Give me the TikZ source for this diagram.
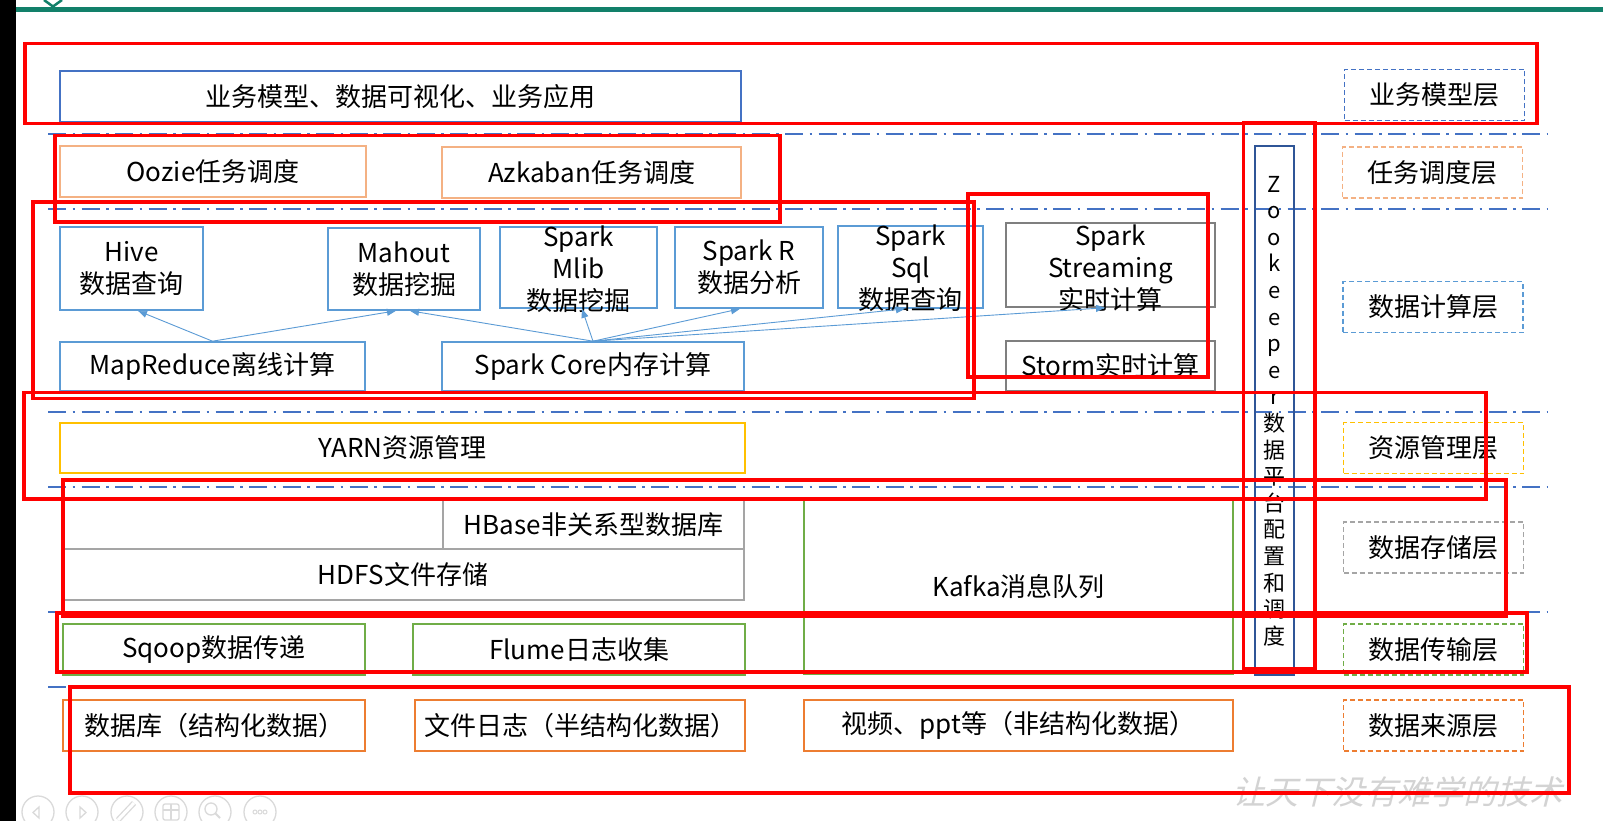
\documentclass[tikz,border=0pt]{standalone}
\usepackage{fontspec}
\setmainfont{Noto Sans CJK SC}
\newfontfamily\wmfont[FakeSlant=0.25]{Noto Sans CJK SC}
\usetikzlibrary{arrows.meta}
\definecolor{redA}{HTML}{FF0000}
\definecolor{tealA}{RGB}{18,128,106}
\definecolor{blueA}{HTML}{4472C4}
\definecolor{blueB}{HTML}{5B9BD5}
\definecolor{orangeL}{HTML}{F4B183}
\definecolor{orangeA}{HTML}{ED7D31}
\definecolor{goldA}{HTML}{FFC000}
\definecolor{grayL}{HTML}{A5A5A5}
\definecolor{grayD}{HTML}{7F7F7F}
\definecolor{greenA}{HTML}{70AD47}
\definecolor{zkblue}{HTML}{2F5597}
\definecolor{icong}{HTML}{DADADA}
\definecolor{wmgray}{HTML}{D3D3D3}
\newcommand\myfs{\fontsize{26}{32}\selectfont}
\newcommand\zkfs{\fontsize{22}{26.6}\selectfont}
\begin{document}
\begin{tikzpicture}[x=1pt,y=-1pt,
 box/.style={draw=#1, line width=1.6pt, fill=white, inner sep=0pt, align=center, font=\myfs, text=black},
 lbl/.style={draw=#1, line width=1.8pt, dash pattern=on 5pt off 3pt, inner sep=0pt, minimum width=180pt, minimum height=51pt, font=\myfs},
 txt/.style={inner sep=0pt, align=center, font=\myfs},
 redbox/.style={draw=redA, line width=3.3pt},
 layerline/.style={blueA, line width=2.2pt, dash pattern=on 18pt off 6.5pt on 2.5pt off 6.5pt},
 arr/.style={blueB, line width=0.9pt, -{Triangle[length=9pt,width=7pt]}},
 icon/.style={icong, line width=1.3pt}]
\useasboundingbox (0,0) rectangle (1603,821);
\fill[white] (0,0) rectangle (1603,821);
\fill[black] (0,0) rectangle (16,821);
\draw[tealA, line width=5pt] (16,10) -- (1603,10);
\draw[tealA, line width=2.5pt] (44,0) -- (53,6.5) -- (62,0);

% layer separators
\foreach \yy in {134,209,412,487,612,687}
  \draw[layerline] (48,\yy) -- (1548,\yy);

% business layer
\node[box=blueA, minimum width=681pt, minimum height=51pt] (biz) at (400.5,96.5) {业务模型、数据可视化、业务应用};
\node[lbl=blueA] (L1) at (1434.5,95) {业务模型层};

% scheduling
\node[box=orangeL, minimum width=306pt, minimum height=51pt] (oozie) at (213,171.5) {Oozie任务调度};
\node[box=orangeL, minimum width=299pt, minimum height=51pt] (azkaban) at (591.5,172.5) {Azkaban任务调度};
\node[lbl=orangeL] (L2) at (1432.5,172.5) {任务调度层};

% computing
\node[box=blueB, minimum width=143pt, minimum height=83pt] (hive) at (131.5,268.5) {Hive\\数据查询};
\node[box=blueB, minimum width=152pt, minimum height=82pt] (mahout) at (404,269) {Mahout\\数据挖掘};
\node[box=blueB, minimum width=157pt, minimum height=81pt] (mlib) at (578.5,267.5) {};
\node[txt] (mlibtext) at ([yshift=-1.5pt]mlib.center) {Spark\\Mlib\\数据挖掘};
\node[box=blueB, minimum width=148pt, minimum height=81pt] (sparkr) at (749,267.5) {Spark R\\数据分析};
\node[box=blueB, minimum width=145pt, minimum height=82pt] (sparksql) at (910.5,267) {};
\node[txt] (sqltext) at ([yshift=-1.5pt]sparksql.center) {Spark\\Sql\\数据查询};
\node[box=grayD, minimum width=209pt, minimum height=84pt] (streaming) at (1110.5,265) {};
\node[txt] (sttext) at ([yshift=-3pt]streaming.center) {Spark\\Streaming\\实时计算};
\node[box=grayD, minimum width=209pt, minimum height=50pt] (storm) at (1110.5,366) {Storm实时计算};
\node[box=blueB, minimum width=305pt, minimum height=49pt] (mapreduce) at (212.5,366.5) {MapReduce离线计算};
\node[box=blueB, minimum width=302pt, minimum height=49pt] (sparkcore) at (593,366.5) {Spark Core内存计算};
\node[lbl=blueB] (L3) at (1433,307) {数据计算层};

\draw[arr] (mapreduce.north) -- ([xshift=6.5pt]hive.south);
\draw[arr] (mapreduce.north) -- ([xshift=-8pt]mahout.south);
\draw[arr] (sparkcore.north) -- ([xshift=6pt]mahout.south);
\draw[arr] (sparkcore.north) -- ([xshift=3.5pt]mlib.south);
\draw[arr] (sparkcore.north) -- ([xshift=-9pt]sparkr.south);
\draw[arr] (sparkcore.north) -- ([xshift=-5.5pt]sparksql.south);
\draw[arr] (sparkcore.north) -- ([xshift=-5.5pt]streaming.south);

% resource
\node[box=goldA, minimum width=685pt, minimum height=50pt] (yarn) at (402.5,448) {YARN资源管理};
\node[lbl=goldA] (L4) at (1433.5,448) {资源管理层};

% storage
\node[box=grayL, minimum width=682pt, minimum height=51pt] (hdfs) at (403,574.5) {HDFS文件存储};
\node[box=grayL, minimum width=301pt, minimum height=49pt] (hbase) at (593.5,524.5) {HBase非关系型数据库};
\node[box=greenA, minimum width=429pt, minimum height=174pt] (kafka) at (1018.5,587) {Kafka消息队列};
\node[lbl=grayL] (L5) at (1433.5,547.5) {数据存储层};

% transfer
\node[box=greenA, minimum width=302pt, minimum height=51pt] (sqoop) at (214,649.5) {Sqoop数据传递};
\node[box=greenA, minimum width=332pt, minimum height=51pt] (flume) at (579,649.5) {Flume日志收集};
\node[lbl=greenA] (L6) at (1433.5,649.5) {数据传输层};

% sources
\node[box=orangeA, minimum width=302pt, minimum height=51pt] (db) at (214,725.5) {数据库（结构化数据）};
\node[box=orangeA, minimum width=330pt, minimum height=51pt] (filelog) at (580,725.5) {文件日志（半结构化数据）};
\node[box=orangeA, minimum width=429pt, minimum height=51pt] (video) at (1018.5,725.5) {视频、ppt等（非结构化数据）};
\node[lbl=orangeA] (L7) at (1433.5,725.5) {数据来源层};

% zookeeper
\node[draw=zkblue, line width=1.5pt, minimum width=39pt, minimum height=528pt, inner sep=0pt] (zk) at (1274.5,410) {};
\draw[zkblue, line width=3pt] (zk.south west) -- (zk.south east);
\node[inner sep=0pt, align=center, font=\zkfs] (zktext) at (1274.5,411) {Z\\o\\o\\k\\e\\e\\p\\e\\r\\数\\据\\平\\台\\配\\置\\和\\调\\度};

% watermark
\node[inner sep=0pt, text=wmgray, font=\wmfont\fontsize{33}{33}\selectfont] (wm) at (1397,792) {让天下没有难学的技术};

% red annotation boxes
\draw[redbox] (25,43.5) rectangle (1537,123.5);
\draw[redbox] (55,135.5) rectangle (780,222);
\draw[redbox] (33,202) rectangle (974,398.5);
\draw[redbox] (968,194) rectangle (1208,377);
\draw[redbox] (24,392.5) rectangle (1486,499);
\draw[redbox] (63,480) rectangle (1506,616.5);
\draw[redbox] (57,613) rectangle (1527,672);
\draw[redbox] (70,687) rectangle (1569,793);
\draw[redbox] (1243.5,123) rectangle (1315,669);

% toolbar icons
\foreach \cx in {38,82,127,171,215,260}
  \draw[icon] (\cx,812) circle (16);
\draw[icon] (33,812.5) -- (39,807) -- (39,818) -- cycle;
\draw[icon] (80,807) -- (80,818) -- (86,812.5) -- cycle;
\draw[icon, double=white, double distance=3pt] (118,820) -- (134,803);
\draw[icon, rounded corners=2pt] (163,804) rectangle (179,820);
\draw[icon] (163,810) -- (179,810) (171,804) -- (171,820);
\draw[icon] (211,809) circle (6);
\draw[icon, line width=2pt] (215.5,813.5) -- (220,818);
\foreach \dx in {-5,0,5}
  \draw[icon, line width=1pt] (260+\dx,812) circle (2);
\end{tikzpicture}
\end{document}
